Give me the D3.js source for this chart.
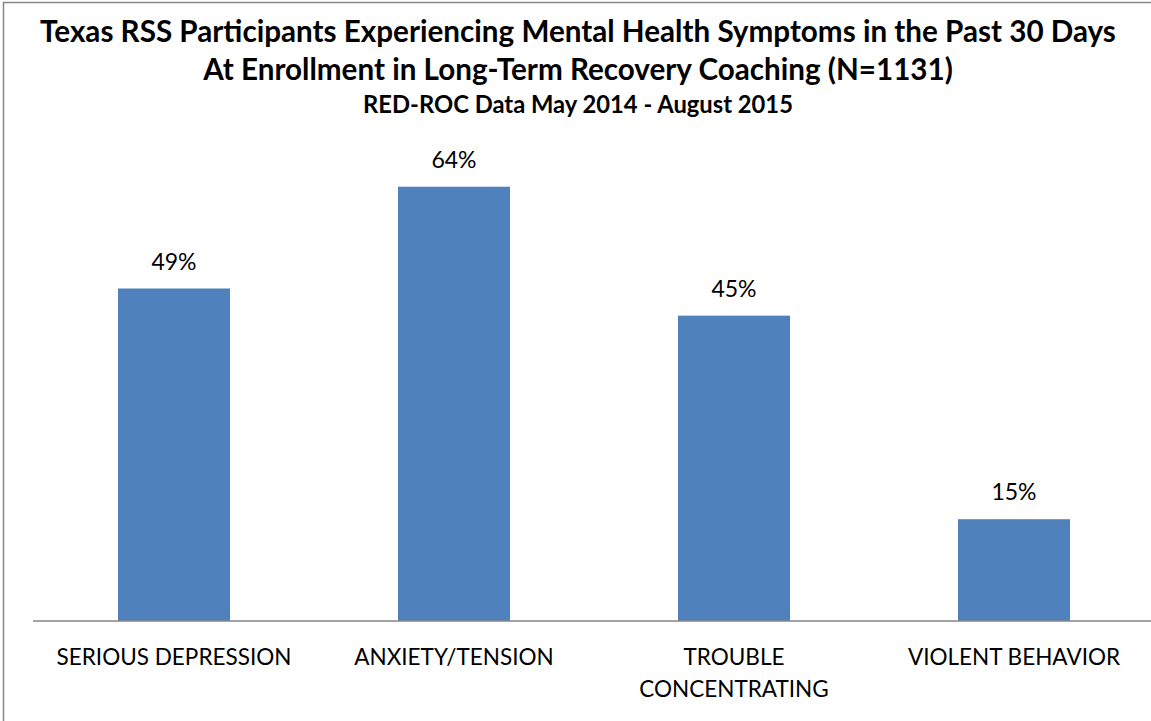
<!DOCTYPE html>
<html><head><meta charset="utf-8">
<script src="https://cdn.jsdelivr.net/npm/d3@7"></script>
<style>body{margin:0;background:#fff}svg{display:block}</style>
</head><body>
<svg id="c" width="1151" height="721"></svg>
<script>
const categories = ["SERIOUS DEPRESSION","ANXIETY/TENSION","TROUBLE CONCENTRATING","VIOLENT BEHAVIOR"];
const categoryLines = [["SERIOUS DEPRESSION"],["ANXIETY/TENSION"],["TROUBLE","CONCENTRATING"],["VIOLENT BEHAVIOR"]];
const values = [49,64,45,15];
const titleLines = ["Texas RSS Participants Experiencing Mental Health Symptoms in the Past 30 Days","At Enrollment in Long-Term Recovery Coaching (N=1131)"];
const subtitle = "RED-ROC Data May 2014 - August 2015";

const font = "Lato, 'Open Sans', sans-serif";
const svg = d3.select("#c");
svg.append("rect").attr("x",3.5).attr("y",2.5).attr("width",1160).attr("height",730)
  .attr("fill","none").attr("stroke","#888").attr("stroke-width",1.5);

// scale a text's font size so its width matches a target width
function fit(sel, target){
  sel.each(function(){
    const w = this.getComputedTextLength();
    const s = parseFloat(d3.select(this).attr("font-size"));
    d3.select(this).attr("font-size", (s*target/w).toFixed(2));
  });
}

const x = d3.scaleBand().domain(categories).range([34,1154]).paddingInner(0.6).paddingOuter(0.3);
const y = d3.scaleLinear().domain([0,70]).range([621,146]);

svg.selectAll("rect.bar").data(values).join("rect").attr("class","bar")
  .attr("x",(d,i)=>x(categories[i])).attr("width",x.bandwidth())
  .attr("y",d=>y(d)).attr("height",d=>y(0)-y(d)).attr("fill","#4F81BD");

svg.selectAll("text.val").data(values).join("text").attr("class","val")
  .attr("x",(d,i)=>x(categories[i])+x.bandwidth()/2).attr("y",d=>y(d)-19)
  .attr("text-anchor","middle").attr("font-family",font).attr("font-size",23).attr("fill","#000")
  .text(d=>d+"%");

const xAxis = d3.axisBottom(x).tickSize(0).tickFormat("");
const gx = svg.append("g").attr("transform","translate(0,621)").call(xAxis);
gx.select(".domain").attr("stroke","#868686").attr("stroke-width",1.5).attr("d","M33,0H1151");

const lab = svg.selectAll("text.cat").data(categoryLines).join("text").attr("class","cat")
  .attr("text-anchor","middle").attr("font-family",font).attr("font-size",19).attr("fill","#000");
lab.each(function(lines,i){
  const t=d3.select(this);
  lines.forEach((l,j)=>t.append("tspan").attr("x",x(categories[i])+x.bandwidth()/2).attr("y",665+j*32).text(l));
});
const first = svg.select("text.cat");
fit(first, 235);
lab.attr("font-size", first.attr("font-size"));

const tl = svg.selectAll("text.title").data(titleLines).join("text").attr("class","title")
  .attr("x",578).attr("y",(d,i)=>42+i*38).attr("text-anchor","middle")
  .attr("font-family",font).attr("font-weight","bold").attr("font-size",26).attr("fill","#000").text(d=>d);
const t0 = svg.select("text.title");
fit(t0, 1076);
tl.attr("font-size", t0.attr("font-size"));
const st = svg.append("text").attr("x",578).attr("y",113).attr("text-anchor","middle")
  .attr("font-family",font).attr("font-weight","bold").attr("font-size",19).attr("fill","#000").text(subtitle);
fit(st, 430);
</script>
</body></html>
